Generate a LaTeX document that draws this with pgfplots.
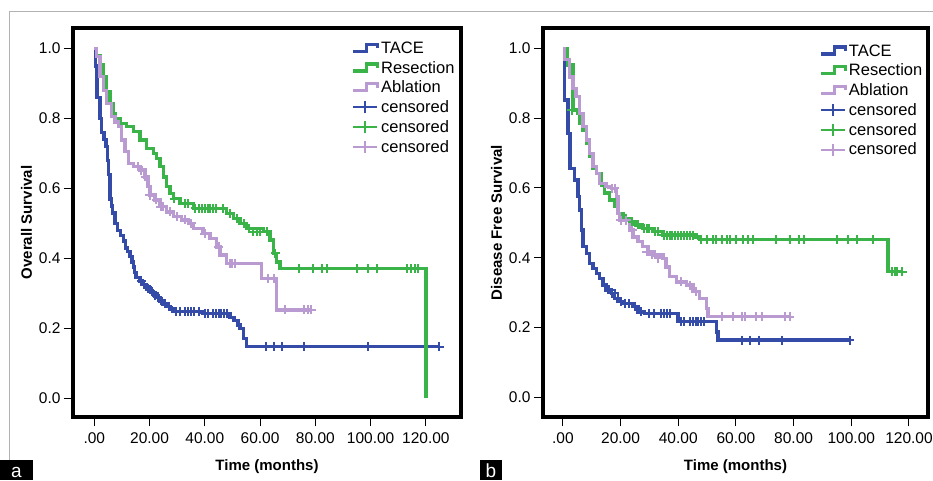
\documentclass[border=0pt]{standalone}
\usepackage{pgfplots}
\pgfplotsset{compat=1.18}
\usepackage{fontspec}
\setmainfont{Liberation Sans}

\definecolor{tace}{RGB}{52,76,168}
\definecolor{resec}{RGB}{58,180,72}
\definecolor{ablat}{RGB}{185,155,210}

\pgfplotsset{
  km/.style={
    scale only axis, anchor=south west,
    axis line style={line width=3.4pt},
    tick align=outside, xtick pos=lower, ytick pos=left,
    major tick length=9pt,
    tick style={line width=1pt, black},
    ytick={0,0.2,0.4,0.6,0.8,1.0},
    yticklabel style={/pgf/number format/fixed, /pgf/number format/fixed zerofill,
      /pgf/number format/precision=1},
    xtick={0,20,40,60,80,100,120},
    xticklabels={.00,20.00,40.00,60.00,80.00,100.00,120.00},
    /pgf/number format/assume math mode=true,
    ticklabel style={font=\fontsize{15.5}{17}\selectfont},
    xticklabel style={yshift=-3pt},
    label style={font=\bfseries\fontsize{15}{17}\selectfont},
    xlabel style={yshift=-9pt},
    xlabel={Time (months)},
    legend cell align=left,
    legend style={draw=none, fill=none, anchor=north west,
      font=\fontsize{16.5}{19}\selectfont, row sep=2.3pt},
  },
  kmstep/.style={const plot, line width=3.4pt, mark=none, color=#1,
    legend image code/.code={\draw[line width=3.4pt, #1] (0pt,-3pt) -- (13pt,-3pt) -- (13pt,4pt) -- (24pt,4pt) -- (24pt,0pt);}},
  kmcens/.style={only marks, mark=+, mark size=4.5pt, color=#1,
    mark options={line width=2pt},
    legend image code/.code={\draw[line width=2pt, #1] (0pt,0pt) -- (24pt,0pt) (12pt,-6pt) -- (12pt,6pt);}},
}

\begin{document}
\begin{tikzpicture}
\useasboundingbox (0,0) rectangle (933pt,480pt);
\draw[gray!60, line width=1pt] (9pt,20pt) -- (9pt,468pt) -- (933pt,468pt);
\fill[black] (0,0) rectangle (33pt,20pt);
\node[white, font=\fontsize{19}{19}\selectfont, inner sep=0pt, anchor=base] at (16.5pt,3pt) {a};
\fill[black] (480pt,0) rectangle (502pt,20pt);
\node[white, font=\fontsize{19}{19}\selectfont, inner sep=0pt, anchor=base] at (491pt,3pt) {b};

% panel a: overall survival
\begin{axis}[km, at={(73pt,63pt)}, width=388pt, height=389pt,
  xmin=-7.7, xmax=132.7, ymin=-0.053, ymax=1.058,
  ylabel={Overall Survival},
  legend style={at={(0.71,0.975)}}]
\addplot[kmstep=tace] coordinates {
 (0,1.0) (0.5,0.95) (1,0.86) (2,0.80) (2.7,0.76) (3.5,0.74) (4.2,0.72)
 (4.8,0.68) (5.2,0.64) (5.7,0.57) (6.2,0.55) (6.6,0.53) (7.5,0.50)
 (8.5,0.48) (9.5,0.465) (10.5,0.45) (11.2,0.43) (12,0.42) (12.9,0.405)
 (13.6,0.39) (14.1,0.375) (14.6,0.36) (15.1,0.345) (16.5,0.335)
 (17.5,0.325) (18.9,0.315) (20.3,0.305) (21.4,0.295) (22.5,0.288)
 (23.8,0.278) (25,0.27) (26.2,0.262) (27.5,0.255) (28.6,0.248)
 (39.4,0.243) (49.1,0.232) (50.5,0.222) (52.0,0.21) (52.7,0.2)
 (53.9,0.172) (55.1,0.148) (124.8,0.148)};
\addplot[kmstep=resec] coordinates {
 (0,1.0) (0.8,0.98) (2.05,0.952) (3.26,0.919) (4.46,0.876) (5.67,0.843)
 (6.88,0.814) (7.5,0.80) (9.3,0.786) (11.7,0.776) (14.1,0.762)
 (16.5,0.738) (18.9,0.714) (21.4,0.70) (22.6,0.686) (23.8,0.662)
 (25,0.633) (26.2,0.605) (27.4,0.586) (28.6,0.571) (31,0.557)
 (35.8,0.543) (45.5,0.543) (47.9,0.529) (50.3,0.514) (52.7,0.50)
 (55.1,0.486) (61.2,0.476) (63.6,0.452) (64.8,0.414) (66,0.39)
 (67.2,0.371) (120,0)};
\addplot[kmstep=ablat] coordinates {
 (0,1.0) (0.84,0.976) (2.05,0.919) (3.26,0.88) (4.46,0.843) (6.27,0.805)
 (7.5,0.79) (8.7,0.776) (9.9,0.738) (11.1,0.705) (12.3,0.671)
 (14.1,0.662) (16.5,0.652) (18.3,0.633) (19.5,0.605) (20.1,0.581)
 (22,0.567) (23.8,0.548) (26.2,0.533) (28.6,0.519) (31.6,0.51)
 (34,0.50) (35.8,0.486) (39.4,0.471) (41.9,0.457) (44.3,0.433)
 (45.5,0.41) (47.9,0.386) (60.6,0.343) (66,0.253) (78.6,0.253)};
\addplot[kmcens=tace] coordinates {
 (17,0.335) (18,0.325) (19.5,0.315) (20,0.31) (21,0.305) (22,0.295)
 (23,0.29) (24.5,0.278) (25.5,0.27) (27,0.262) (29.5,0.248) (31,0.248)
 (33,0.248) (34,0.248) (35,0.248) (36,0.248) (38,0.248) (40,0.243)
 (41,0.243) (43,0.243) (44,0.243) (45,0.243) (46,0.243) (47,0.243)
 (48,0.243) (62,0.148) (65,0.148) (68,0.148) (76,0.148) (99.2,0.148)
 (124.8,0.148)};
\addplot[kmcens=resec] coordinates {
 (29,0.571) (33,0.557) (34,0.557) (36.5,0.543) (38,0.543) (39,0.543)
 (40,0.543) (41,0.543) (42,0.543) (43,0.543) (44,0.543) (46.5,0.543)
 (49,0.529) (51.5,0.514) (54,0.50) (56,0.486) (57.5,0.476) (59,0.476)
 (60,0.476) (62.5,0.476) (65.5,0.414) (74.1,0.371) (79.3,0.371)
 (82.3,0.371) (84.1,0.371) (95.2,0.371) (99.2,0.371) (102.2,0.371)
 (113,0.371) (114.5,0.371) (116,0.371) (117.2,0.371)};
\addplot[kmcens=ablat] coordinates {
 (16,0.662) (17,0.652) (18.5,0.633) (20,0.581) (22.5,0.567) (24,0.548)
 (25,0.548) (27.5,0.533) (30,0.519) (33,0.51) (35,0.50) (40,0.471)
 (45,0.433) (49,0.386) (50,0.386) (51,0.386) (63,0.343) (65,0.343)
 (69,0.253) (76,0.253) (77.5,0.253) (78.6,0.253)};
\legend{TACE,Resection,Ablation,censored,censored,censored}
\end{axis}

% panel b: disease free survival
\begin{axis}[km, at={(543pt,63pt)}, width=385pt, height=389pt,
  xmin=-6.9, xmax=126.6, ymin=-0.056, ymax=1.058,
  ylabel={Disease Free Survival},
  legend style={at={(0.71,0.968)}}]
\addplot[kmstep=tace] coordinates {
 (0,0.97) (0.58,0.85) (1.4,0.852) (1.7,0.756) (2.5,0.656) (4.0,0.623)
 (5.2,0.575) (5.8,0.537) (6.4,0.479) (6.9,0.432) (8.1,0.413)
 (9.2,0.384) (10.4,0.37) (11.6,0.355) (12.7,0.341) (13.9,0.322)
 (15,0.308) (16.8,0.298) (17.9,0.284) (19.1,0.274) (20.8,0.269)
 (24.3,0.26) (26,0.245) (28.3,0.241) (39.9,0.217) (53.2,0.188)
 (53.8,0.164) (99.4,0.164)};
\addplot[kmstep=resec] coordinates {
 (0,1.0) (1.5,0.952) (3.5,0.823) (5.2,0.814) (5.8,0.785) (6.9,0.766)
 (8.1,0.728) (9.2,0.69) (10.4,0.656) (11.6,0.642) (13.3,0.608)
 (14.5,0.585) (16.2,0.565) (17.9,0.546) (19.1,0.527) (20.8,0.513)
 (23.1,0.503) (25.4,0.494) (27.7,0.484) (31.2,0.475) (34.7,0.465)
 (46.2,0.46) (47.4,0.453) (112.7,0.36) (117.7,0.36)};
\addplot[kmstep=ablat] coordinates {
 (0,1.0) (0.6,0.967) (2.3,0.918) (3.5,0.885) (4.6,0.861) (5.8,0.814)
 (6.9,0.776) (8.1,0.737) (9.2,0.699) (10.4,0.661) (11.6,0.642)
 (12.7,0.613) (15,0.604) (16.8,0.599) (18.5,0.575) (19.1,0.527)
 (19.7,0.508) (23.1,0.479) (24.3,0.46) (26,0.446) (27.7,0.432)
 (29.5,0.417) (31.8,0.408) (34.7,0.398) (35.8,0.374) (37,0.346)
 (39.3,0.331) (42.8,0.322) (45.1,0.303) (47.4,0.284) (49.7,0.255)
 (50.3,0.231) (78.6,0.231)};
\addplot[kmcens=tace] coordinates {
 (16,0.308) (17,0.298) (18,0.298) (19,0.284) (20,0.274) (21.5,0.269)
 (23,0.269) (25,0.26) (27,0.245) (30,0.241) (31.5,0.241) (34,0.241)
 (35,0.241) (36,0.241) (37,0.241) (41,0.217) (42,0.217) (44,0.217)
 (45,0.217) (46,0.217) (47,0.217) (48,0.217) (49,0.217) (62,0.164)
 (65,0.164) (68,0.164) (76,0.164) (99.4,0.164)};
\addplot[kmcens=resec] coordinates {
 (3,0.823) (22,0.513) (24,0.503) (26,0.494) (28,0.484) (29,0.484)
 (30,0.484) (32,0.475) (33,0.475) (35,0.465) (36,0.465) (37,0.465)
 (38,0.465) (39,0.465) (40,0.465) (41,0.465) (42,0.465) (43,0.465)
 (44,0.465) (45,0.465) (48,0.453) (50,0.453) (52,0.453) (53,0.453)
 (55,0.453) (57,0.453) (58,0.453) (60,0.453) (62.4,0.453) (64.2,0.453)
 (65.9,0.453) (73.9,0.453) (78.7,0.453) (81.9,0.453) (83.6,0.453)
 (95,0.453) (98.8,0.453) (101.9,0.453) (107.5,0.453) (114,0.36)
 (115,0.36) (116,0.36) (117.7,0.36)};
\addplot[kmcens=ablat] coordinates {
 (17,0.599) (18,0.599) (20,0.508) (22,0.508) (24,0.479) (29,0.417)
 (31,0.408) (33,0.398) (41,0.331) (44,0.322) (46,0.303) (55,0.231)
 (59,0.231) (62,0.231) (63,0.231) (67,0.231) (69,0.231) (77,0.231)
 (78.6,0.231)};
\legend{TACE,Resection,Ablation,censored,censored,censored}
\end{axis}
\end{tikzpicture}
\end{document}
